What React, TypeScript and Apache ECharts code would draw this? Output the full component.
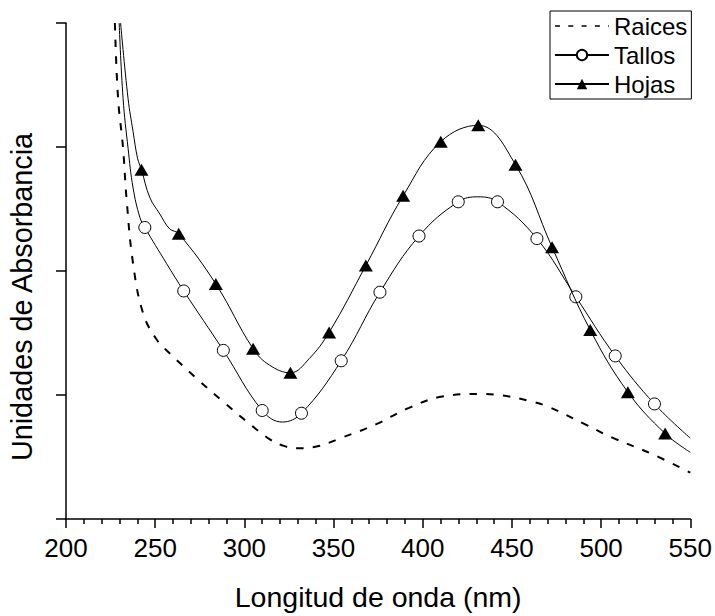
import React, { useEffect, useRef } from "react";
import * as echarts from "echarts";

// ---- Data ----
const xTicks = [200, 250, 300, 350, 400, 450, 500, 550];

// Raices (dashed curve, no markers)
const raicesCurve: [number, number][] = [
  [227.4, 4.0], [229.2, 3.39], [232.0, 2.99], [233.9, 2.59], [237.6, 2.06],
  [243.2, 1.66], [250.7, 1.45], [258.6, 1.33], [273.1, 1.135], [287.9, 0.949],
  [301.0, 0.79], [314.1, 0.644], [321.0, 0.595], [329.0, 0.57], [338.3, 0.578],
  [355.0, 0.658], [373.7, 0.763], [392.3, 0.896], [411.0, 0.988], [431.5, 1.008],
  [444.5, 0.996], [459.4, 0.954], [470.6, 0.904], [491.1, 0.763], [506.0, 0.658],
  [528.4, 0.525], [550.0, 0.374],
];

// Tallos markers (open circles)
const tallosMarkers: [number, number][] = [
  [244.2, 2.351], [266.0, 1.839], [288.2, 1.36], [310.0, 0.875], [332.0, 0.853],
  [354.3, 1.276], [376.0, 1.829], [397.9, 2.282], [419.9, 2.558], [441.9, 2.558],
  [464.0, 2.261], [485.8, 1.792], [507.9, 1.315], [529.9, 0.928],
];
// Tallos curve points between markers
const tallosCurve: [number, number][] = [
  [229.8, 4.0], [232.0, 3.39], [234.8, 2.99], [237.6, 2.67], [241.4, 2.433],
  [256.3, 2.062], [321.3, 0.782], [430.9, 2.598], [550.0, 0.652],
];

// Hojas markers (filled triangles)
const hojasMarkers: [number, number][] = [
  [242.3, 2.817], [263.2, 2.301], [284.0, 1.895], [304.9, 1.373], [325.8, 1.179],
  [347.5, 1.505], [368.1, 2.044], [389.0, 2.606], [410.1, 3.043], [431.1, 3.175],
  [452.0, 2.857], [472.5, 2.192], [493.9, 1.524], [515.0, 1.023], [535.9, 0.689],
];
const hojasCurve: [number, number][] = [
  [230.6, 4.0], [234.8, 3.39], [237.6, 3.125], [240.1, 2.91],
  [247.0, 2.592], [252.6, 2.46], [258.1, 2.34], [314.1, 1.241], [336.4, 1.294],
  [550.0, 0.538],
];

const seriesNames = ["Raices", "Tallos", "Hojas"];

function merge(curve: [number, number][], markers: [number, number][]) {
  const items = [
    ...curve.map((p) => ({ value: p, m: false })),
    ...markers.map((p) => ({ value: p, m: true })),
  ];
  items.sort((a, b) => a.value[0] - b.value[0]);
  return items.map((it) => (it.m ? { value: it.value } : { value: it.value, symbol: "none" }));
}

const FONT = "Liberation Sans, Arial, sans-serif";

export default function App() {
  const ref = useRef<HTMLDivElement>(null);
  useEffect(() => {
    if (!ref.current) return;
    const chart = echarts.init(ref.current, undefined, { renderer: "svg" });
    chart.setOption({
      animation: false,
      backgroundColor: "#fff",
      textStyle: { fontFamily: FONT, color: "#000" },
      grid: { left: 66, right: 23, top: 23, bottom: 90, containLabel: false },
      legend: {
        data: [
          {
            name: seriesNames[0],
            itemStyle: { color: "rgba(0,0,0,0)", borderWidth: 0, opacity: 0 },
            lineStyle: { type: [5, 8.3], width: 1.5 },
          },
          { name: seriesNames[1] },
          { name: seriesNames[2] },
        ],
        orient: "vertical",
        left: 550,
        top: 11,
        padding: [3, 4, 3, 4],
        itemGap: 5,
        itemWidth: 54,
        itemHeight: 13,
        borderColor: "#000",
        borderWidth: 1,
        textStyle: { fontSize: 24, color: "#000", fontFamily: FONT },
      },
      xAxis: {
        type: "value",
        min: xTicks[0],
        max: xTicks[xTicks.length - 1],
        interval: 50,
        name: "Longitud de onda (nm)",
        nameLocation: "middle",
        nameGap: 63,
        nameTextStyle: { fontSize: 28.5, color: "#000", fontFamily: FONT },
        axisLine: { show: true, onZero: false, lineStyle: { color: "#000", width: 1.5 } },
        axisTick: { show: true, inside: false, length: 9, lineStyle: { color: "#000", width: 1.5 } },
        minorTick: { show: true, splitNumber: 5, length: 5, lineStyle: { color: "#000", width: 1.5 } },
        axisLabel: { fontSize: 26, color: "#000", margin: 16, fontFamily: FONT },
        splitLine: { show: false },
      },
      yAxis: {
        type: "value",
        min: 0,
        max: 4,
        interval: 1,
        axisLine: { show: true, onZero: false, lineStyle: { color: "#000", width: 1.5 } },
        axisTick: { show: true, inside: false, length: 10, lineStyle: { color: "#000", width: 1.5 } },
        axisLabel: { show: false },
        splitLine: { show: false },
      },
      graphic: [
        {
          type: "text",
          x: 22,
          y: 297,
          rotation: Math.PI / 2,
          style: {
            text: "Unidades de Absorbancia",
            fontSize: 28.8,
            fontFamily: FONT,
            fill: "#000",
            align: "center",
            verticalAlign: "middle",
          },
        },
      ],
      series: [
        {
          name: "Raices",
          type: "line",
          data: raicesCurve,
          symbol: "none",
          smooth: 0.4,
          clip: true,
          lineStyle: { color: "#000", width: 2, type: [7.5, 9.2] },
          itemStyle: { color: "#000" },
        },
        {
          name: "Tallos",
          type: "line",
          data: merge(tallosCurve, tallosMarkers),
          symbol: "circle",
          symbolSize: 12,
          showAllSymbol: true,
          smooth: 0.4,
          clip: true,
          lineStyle: { color: "#000", width: 1 },
          itemStyle: { color: "#fff", borderColor: "#000", borderWidth: 1 },
          z: 3,
        },
        {
          name: "Hojas",
          type: "line",
          data: merge(hojasCurve, hojasMarkers),
          symbol: "triangle",
          symbolSize: [14, 12],
          showAllSymbol: true,
          smooth: 0.4,
          clip: true,
          lineStyle: { color: "#000", width: 1 },
          itemStyle: { color: "#000", borderColor: "#000", borderWidth: 0 },
          z: 4,
        },
      ],
    });
    return () => chart.dispose();
  }, []);
  return (
    <div
      ref={ref}
      style={{ position: "fixed", left: 0, top: 0, width: 715, height: 616 }}
    />
  );
}
